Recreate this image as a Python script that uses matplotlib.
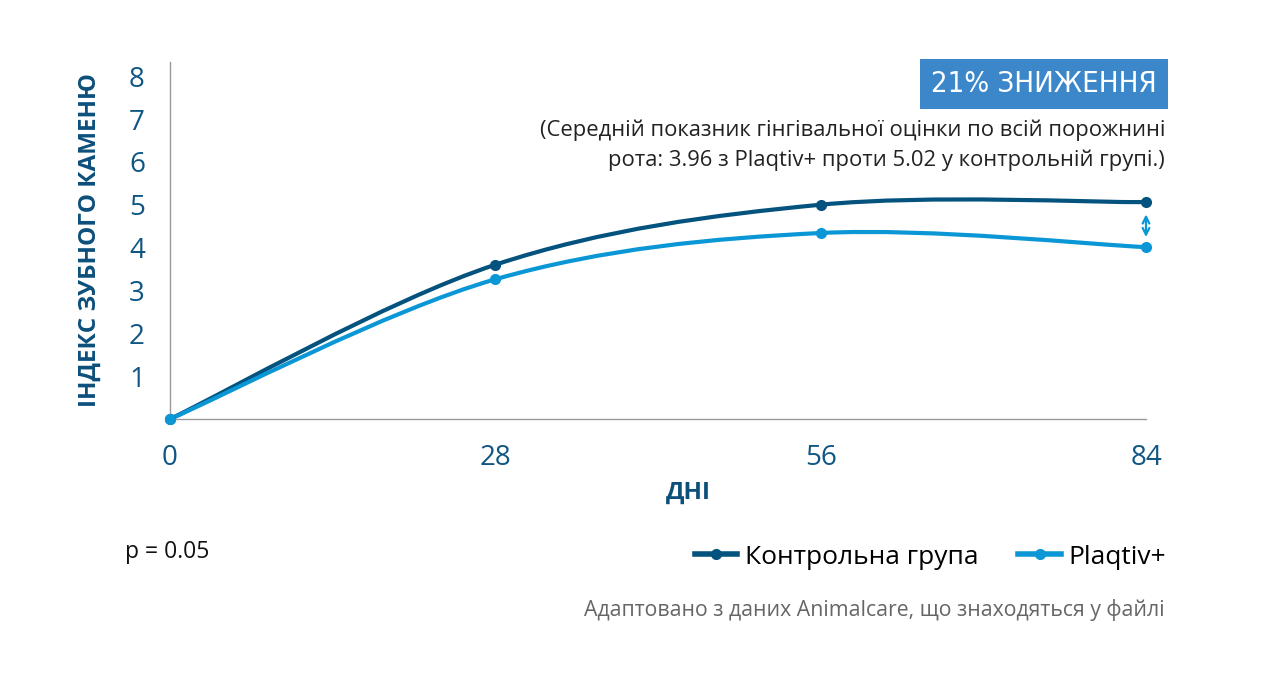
import numpy as np
import matplotlib.pyplot as plt
from matplotlib.path import Path
from matplotlib.patches import PathPatch

# data
days = [0, 28, 56, 84]
control = [0.0, 3.60, 5.00, 5.06]
plaqtiv = [0.0, 3.26, 4.34, 4.01]
y_ticks = [1, 2, 3, 4, 5, 6, 7, 8]

dark = '#04527e'
light = '#0b97d5'
tick_col = '#105684'

plt.rcParams['font.family'] = ['Open Sans', 'DejaVu Sans']


def smooth_path(x, y):
    # Catmull-Rom style curve through the points, drawn as cubic Beziers
    x = np.asarray(x, float)
    y = np.asarray(y, float)
    px = np.concatenate([[x[0]], x, [x[-1]]])
    py = np.concatenate([[y[0]], y, [y[-1]]])
    verts = [(x[0], y[0])]
    codes = [Path.MOVETO]
    for i in range(1, len(px) - 2):
        c1 = (px[i] + (px[i + 1] - px[i - 1]) / 6, py[i] + (py[i + 1] - py[i - 1]) / 6)
        c2 = (px[i + 1] - (px[i + 2] - px[i]) / 6, py[i + 1] - (py[i + 2] - py[i]) / 6)
        verts += [c1, c2, (px[i + 1], py[i + 1])]
        codes += [Path.CURVE4] * 3
    return Path(verts, codes)


fig = plt.figure(figsize=(12.72, 6.73), dpi=100)
ax = fig.add_axes([170 / 1272, 1 - 419 / 673, 976 / 1272, 357 / 673])

for vals, col, lab in [(control, dark, 'Контрольна група'), (plaqtiv, light, 'Plaqtiv+')]:
    ax.add_patch(PathPatch(smooth_path(days, vals), facecolor='none', edgecolor=col,
                           lw=3, capstyle='round', clip_on=False, zorder=3))
    ax.plot(days, vals, 'o', color=col, ms=7, clip_on=False, zorder=4)
    # legend proxy
    ax.plot([], [], '-o', color=col, lw=4, ms=7, label=lab)

# double arrow between the end values
ax.annotate('', xy=(days[-1], plaqtiv[-1] + 0.17), xytext=(days[-1], control[-1] - 0.22),
            arrowprops=dict(arrowstyle='<->', color=light, lw=1.6, mutation_scale=12))

ax.set_xlim(0, 84)
ax.set_ylim(0, 8.33)
ax.set_xticks(days)
ax.set_yticks(y_ticks)
ax.tick_params(length=0, labelsize=20, labelcolor=tick_col)
ax.tick_params(axis='x', pad=18)
ax.tick_params(axis='y', pad=18)
for s in ['top', 'right']:
    ax.spines[s].set_visible(False)
for s in ['left', 'bottom']:
    ax.spines[s].set_color('#999999')
    ax.spines[s].set_linewidth(1)

fig.text(90 / 1272, 1 - 240 / 673, 'ІНДЕКС ЗУБНОГО КАМЕНЮ', rotation=90, ha='center', va='center',
         fontsize=17.5, fontweight='bold', color='#0c4f7b')
fig.text(688 / 1272, 1 - 493 / 673, 'ДНІ', ha='center', va='center',
         fontsize=17.5, fontweight='bold', color='#0c4f7b')

fig.text(1157 / 1272, 1 - 84 / 673, '21% ЗНИЖЕННЯ', ha='right', va='center', color='white',
         fontsize=21, family='DejaVu Sans', fontstretch='condensed',
         bbox=dict(boxstyle='square,pad=0.38', facecolor='#3c87c9', edgecolor='none'))

fig.text(1165 / 1272, 1 - 130 / 673, '(Середній показник гінгівальної оцінки по всій порожнині',
         ha='right', va='center', fontsize=15.8, color='#222222')
fig.text(1165 / 1272, 1 - 160 / 673, 'рота: 3.96 з Plaqtiv+ проти 5.02 у контрольній групі.)',
         ha='right', va='center', fontsize=15.8, color='#222222')

fig.text(125 / 1272, 1 - 552 / 673, 'p = 0.05', ha='left', va='center', fontsize=16.5, color='#111111')

fig.legend(loc='center right', bbox_to_anchor=(1190 / 1272, 1 - 557 / 673), ncol=2,
           frameon=False, fontsize=19, handlelength=1.6, handletextpad=0.3, columnspacing=1.5)

fig.text(1165 / 1272, 1 - 610 / 673, 'Адаптовано з даних Animalcare, що знаходяться у файлі',
         ha='right', va='center', fontsize=15.3, color='#666666')

fig.savefig('out.png', dpi=100)
